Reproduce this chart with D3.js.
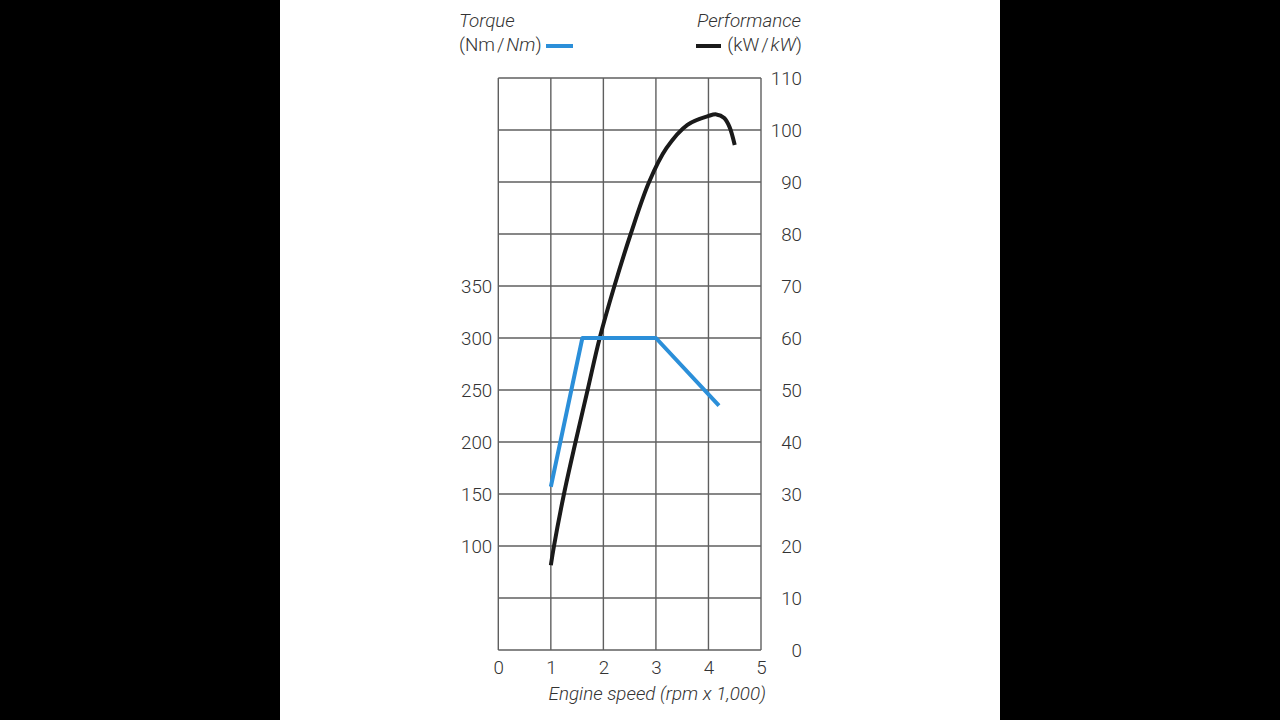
<!DOCTYPE html>
<html>
<head>
<meta charset="utf-8">
<script src="https://cdn.jsdelivr.net/npm/d3@7"></script>
<style>
  html, body { margin: 0; padding: 0; background: #000; }
  svg { display: block; }
  text { font-family: Roboto, "Liberation Sans", sans-serif; font-weight: 300; fill: #333; }
</style>
</head>
<body>
<svg id="chart"></svg>
<script>
// données
const rpmTicks = [0, 1, 2, 3, 4, 5];
const kwTicks = [0, 10, 20, 30, 40, 50, 60, 70, 80, 90, 100, 110];
const torqueTicks = [100, 150, 200, 250, 300, 350];

// couple (Nm) en fonction du régime (x 1000 tr/min)
const torqueRpm = [1.0, 1.6, 3.0, 4.2];
const torqueNm = [157, 300, 300, 235];

// puissance (kW)
const powerRpm = [1.0, 1.06, 1.25, 1.47, 1.70, 1.93, 2.21, 2.52, 2.87, 3.2, 3.6, 4.0, 4.15, 4.3, 4.4, 4.5];
const powerKw = [16.3, 20, 30, 40, 50, 60, 70, 80, 90, 96.5, 101, 102.7, 103, 102.3, 100.6, 97.1];

const width = 1280;
const height = 720;
const blue = "#2b8fd9";
const black = "#1a1a1a";
const fontSize = "18.8px";

const svg = d3.select("#chart")
    .attr("width", width)
    .attr("height", height);

// fond blanc au centre
svg.append("rect")
    .attr("x", 280).attr("y", 0)
    .attr("width", 720).attr("height", height)
    .attr("fill", "#fff");

const x = d3.scaleLinear().domain([0, 5]).range([498.3, 761]);
const yR = d3.scaleLinear().domain([0, 110]).range([650, 78]);
const yL = d3.scaleLinear().domain([0, 550]).range([650, 78]);

// grille
const grid = svg.append("g")
    .attr("stroke", "#5f5f5f")
    .attr("stroke-width", 1.4);

grid.selectAll("line.v")
  .data(rpmTicks)
  .join("line")
    .attr("class", "v")
    .attr("x1", d => x(d)).attr("x2", d => x(d))
    .attr("y1", yR(0)).attr("y2", yR(110));

grid.selectAll("line.h")
  .data(kwTicks)
  .join("line")
    .attr("class", "h")
    .attr("x1", x(0)).attr("x2", x(5))
    .attr("y1", d => yR(d)).attr("y2", d => yR(d));

// axes
const axisBottom = svg.append("g")
    .attr("transform", `translate(0,${yR(0)})`)
    .call(d3.axisBottom(x).tickValues(rpmTicks).tickSize(0).tickPadding(8).tickFormat(d3.format("d")));

const axisLeft = svg.append("g")
    .attr("transform", `translate(${x(0) - 6},0)`)
    .call(d3.axisLeft(yL).tickValues(torqueTicks).tickSize(0).tickPadding(0));

const axisRight = svg.append("g")
    .attr("transform", `translate(${x(5) + 41},0)`)
    .call(d3.axisLeft(yR).tickValues(kwTicks).tickSize(0).tickPadding(0));

[axisBottom, axisLeft, axisRight].forEach(a => {
    a.select(".domain").remove();
    a.selectAll("text")
        .attr("font-family", null)
        .style("font-size", fontSize);
});
axisBottom.selectAll("text").attr("dy", "0.85em");

// courbes
const powerData = powerRpm.map((r, i) => [r, powerKw[i]]);
const torqueData = torqueRpm.map((r, i) => [r, torqueNm[i]]);

svg.append("path")
    .datum(powerData)
    .attr("fill", "none")
    .attr("stroke", black)
    .attr("stroke-width", 4)
    .attr("d", d3.line()
        .x(d => x(d[0]))
        .y(d => yR(d[1]))
        .curve(d3.curveCatmullRom.alpha(0.5)));

svg.append("path")
    .datum(torqueData)
    .attr("fill", "none")
    .attr("stroke", blue)
    .attr("stroke-width", 4)
    .attr("stroke-linejoin", "round")
    .attr("d", d3.line()
        .x(d => x(d[0]))
        .y(d => yL(d[1])));

// titres en haut
const head = svg.append("g").style("font-size", fontSize);

head.append("text")
    .attr("x", 459).attr("y", 27)
    .style("font-style", "italic")
    .text("Torque");

const tq = head.append("text").attr("x", 459).attr("y", 51);
tq.append("tspan").text("(Nm\u200A/\u200A");
tq.append("tspan").style("font-style", "italic").text("Nm");
tq.append("tspan").text(")");

head.append("line")
    .attr("x1", 546).attr("x2", 573)
    .attr("y1", 46).attr("y2", 46)
    .attr("stroke", blue).attr("stroke-width", 4);

head.append("text")
    .attr("x", 801).attr("y", 27)
    .attr("text-anchor", "end")
    .style("font-style", "italic")
    .text("Performance");

const pf = head.append("text").attr("x", 802).attr("y", 51).attr("text-anchor", "end");
pf.append("tspan").text("(kW\u200A/\u200A");
pf.append("tspan").style("font-style", "italic").text("kW");
pf.append("tspan").text(")");

head.append("line")
    .attr("x1", 696).attr("x2", 721)
    .attr("y1", 46).attr("y2", 46)
    .attr("stroke", black).attr("stroke-width", 4);

// titre de l'axe x
svg.append("text")
    .attr("x", 766).attr("y", 700)
    .attr("text-anchor", "end")
    .style("font-size", fontSize)
    .style("font-style", "italic")
    .text("Engine speed (rpm x 1,000)");
</script>
</body>
</html>
